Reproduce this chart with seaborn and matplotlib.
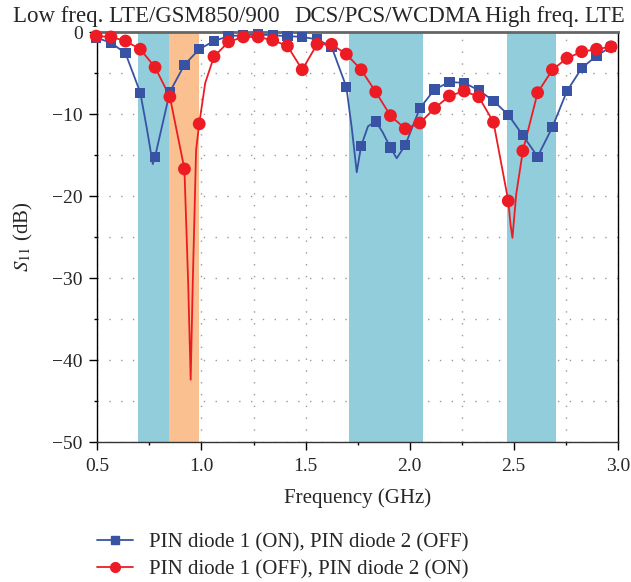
import matplotlib
matplotlib.use("Agg")
import matplotlib.pyplot as plt
from matplotlib.lines import Line2D
from matplotlib.ticker import MultipleLocator
import pandas as pd
import seaborn as sns

# Frequencies (GHz) of the plotted markers, shared by both states
freq_markers = [0.494, 0.565, 0.635, 0.706, 0.777, 0.848, 0.918, 0.989, 1.060,
                1.130, 1.201, 1.272, 1.342, 1.413, 1.484, 1.555, 1.625, 1.696,
                1.767, 1.837, 1.908, 1.979, 2.049, 2.120, 2.191, 2.262, 2.332,
                2.403, 2.474, 2.544, 2.615, 2.686, 2.756, 2.827, 2.898, 2.968]

# S11 (dB) at the markers
s11_d1_on = [-0.7, -1.3, -2.6, -7.4, -15.2, -7.3, -4.0, -2.1, -1.1, -0.5, -0.4,
             -0.3, -0.4, -0.5, -0.6, -0.9, -1.8, -6.7, -13.9, -10.9, -14.1, -13.8,
             -9.3, -7.0, -6.1, -6.2, -7.1, -8.4, -10.1, -12.6, -15.2, -11.6, -7.2,
             -4.4, -2.9, -1.8]
s11_d2_on = [-0.5, -0.6, -1.1, -2.1, -4.3, -7.9, -16.7, -11.2, -3.0, -1.2, -0.6,
             -0.6, -1.0, -1.7, -4.6, -1.5, -1.5, -2.7, -4.6, -7.3, -10.2, -11.8,
             -11.1, -9.3, -7.8, -7.2, -7.9, -11.0, -20.6, -14.5, -7.4, -4.6, -3.2,
             -2.4, -2.1, -1.8]

# extra points read along the traces between markers (resonance dips)
freq_extra_d1 = [0.737, 0.766, 1.722, 1.746, 1.800, 1.870, 1.938]
s11_extra_d1 = [-11.7, -16.1, -11.7, -17.1, -11.5, -12.2, -15.4]
freq_extra_d2 = [0.936, 0.948, 0.958, 0.966, 0.974, 1.018, 2.485, 2.494, 2.512]
s11_extra_d2 = [-30.6, -42.4, -30.6, -22.6, -14.4, -6.2, -23.5, -25.1, -19.8]

# shaded operating bands (GHz)
bands_blue = [(0.697, 0.842), (1.711, 2.064), (2.469, 2.704)]
band_orange = (0.842, 0.990)

band_names = ["Low freq. LTE/GSM850/900", "DCS/PCS/WCDMA", "High freq. LTE"]
band_name_x = [0.734, 1.899, 2.697]

lab1 = "PIN diode 1 (ON), PIN diode 2 (OFF)"
lab2 = "PIN diode 1 (OFF), PIN diode 2 (ON)"
blue = "#3953A4"
red = "#ED1C24"

sns.set_theme(style="white")
plt.rcParams["font.family"] = ["Liberation Serif", "DejaVu Serif"]
plt.rcParams["mathtext.fontset"] = "stix"

markers_df = pd.concat([
    pd.DataFrame({"freq": freq_markers, "s11": s11_d1_on, "state": lab1}),
    pd.DataFrame({"freq": freq_markers, "s11": s11_d2_on, "state": lab2}),
])
lines_df = pd.concat([
    markers_df,
    pd.DataFrame({"freq": freq_extra_d1, "s11": s11_extra_d1, "state": lab1}),
    pd.DataFrame({"freq": freq_extra_d2, "s11": s11_extra_d2, "state": lab2}),
])

fig = plt.figure(figsize=(6.31, 5.82), dpi=100)
ax = fig.add_axes([0.1544, 0.2405, 0.8246, 0.7045])
ax.set_axisbelow(True)

for lo, hi in bands_blue:
    ax.axvspan(lo, hi, color="#92CDDC", lw=0, zorder=1)
ax.axvspan(*band_orange, color="#FAC090", lw=0, zorder=1)

palette = {lab1: blue, lab2: red}
sns.lineplot(data=lines_df, x="freq", y="s11", hue="state", palette=palette,
             estimator=None, sort=True, linewidth=1.3, legend=False, ax=ax,
             zorder=3)
sns.scatterplot(data=markers_df, x="freq", y="s11", hue="state", style="state",
                size="state", sizes={lab1: 55, lab2: 85},
                markers={lab1: "s", lab2: "o"}, palette=palette,
                linewidth=0, legend=False, ax=ax, zorder=4, clip_on=False)

ax.set_xlim(0.5, 3.0)
ax.set_ylim(-50, 0)
ax.xaxis.set_major_locator(MultipleLocator(0.5))
ax.xaxis.set_minor_locator(MultipleLocator(0.25))
ax.yaxis.set_major_locator(MultipleLocator(10))
ax.yaxis.set_minor_locator(MultipleLocator(5))
ax.xaxis.set_major_formatter(lambda v, p: f"{v:.1f}")
ax.grid(which="both", color="#9a9a9a", linestyle=(0, (1, 7.5)), linewidth=1.0)
ax.tick_params(which="both", direction="out", labelsize=14, color="black",
               bottom=True, left=True)
ax.tick_params(which="major", length=5.5, width=1)
ax.tick_params(which="minor", length=2.5, width=1)
ax.tick_params(axis="x", which="major", pad=6)
ax.tick_params(axis="y", which="major", pad=5)

for side in ["left", "right", "bottom"]:
    ax.spines[side].set_color("black")
    ax.spines[side].set_linewidth(1.0)
ax.spines["bottom"].set_color("#333333")
ax.spines["top"].set_color("#666666")
ax.spines["top"].set_linewidth(2.0)

ax.set_xlabel("Frequency (GHz)", fontsize=15)
ax.set_ylabel(r"$S_{11}$ (dB)", fontsize=15)
ax.xaxis.set_label_coords(0.5, -0.112)
ax.yaxis.set_label_coords(-0.12, 0.5)

for name, xpos in zip(band_names, band_name_x):
    ax.text(xpos, 1.024, name, transform=ax.get_xaxis_transform(), ha="center",
            va="baseline", fontsize=16.5)

handles = [
    Line2D([], [], color=blue, lw=1.3, marker="s", markersize=6),
    Line2D([], [], color=red, lw=1.3, marker="o", markersize=7),
]
fig.legend(handles, [lab1, lab2], loc="upper left", bbox_to_anchor=(0.154, 0.0845),
           frameon=False, fontsize=15, handlelength=1.7, handletextpad=0.77,
           labelspacing=0.35, borderpad=0, borderaxespad=0)

fig.savefig("out.png", dpi=100)
